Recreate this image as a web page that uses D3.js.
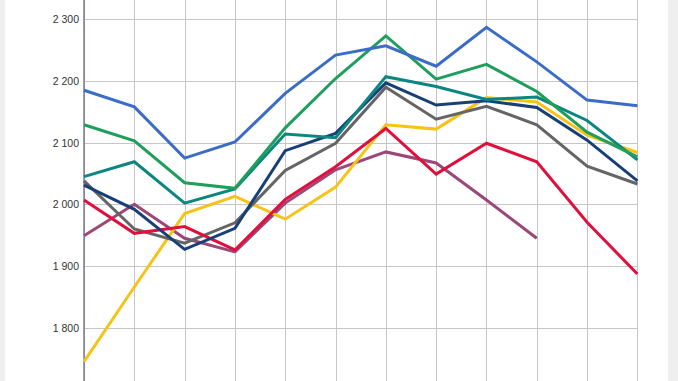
<!DOCTYPE html>
<html>
  <head>
    <meta charset="utf-8">
    <script src="https://cdn.jsdelivr.net/npm/d3@7"></script>
    <style>
      body { margin: 0; background: #ffffff; }
      svg { display: block; }
    </style>
  </head>
  <body>
    <svg width="678" height="381" id="mainsvg"></svg>
    <script>
        // values, one array per series
        const periods = [0, 1, 2, 3, 4, 5, 6, 7, 8, 9, 10, 11];
        const yTicks = [1800, 1900, 2000, 2100, 2200, 2300];

        const blueVals   = [2185, 2158, 2075, 2101, 2180, 2242, 2257, 2224, 2287, 2231, 2169, 2160];
        const greenVals  = [2129, 2103, 2035, 2026, 2124, 2204, 2273, 2203, 2227, 2183, 2117, 2077];
        const tealVals   = [2045, 2069, 2002, 2025, 2114, 2108, 2207, 2191, 2170, 2174, 2136, 2072];
        const navyVals   = [2031, 1992, 1927, 1961, 2087, 2115, 2197, 2161, 2168, 2157, 2104, 2038];
        const grayVals   = [2038, 1960, 1937, 1970, 2055, 2099, 2190, 2138, 2159, 2129, 2062, 2033];
        const yellowVals = [1745, 1866, 1985, 2013, 1976, 2028, 2129, 2122, 2173, 2166, 2112, 2084];
        const redVals    = [2007, 1953, 1964, 1926, 2008, 2061, 2123, 2049, 2099, 2069, 1971, 1887];
        const purpleVals = [1949, 2000, 1945, 1923, 2002, 2056, 2085, 2067, 2007, 1945];

        const series = [
            {name: 'purple', values: purpleVals, color: '#9b4878'},
            {name: 'yellow', values: yellowVals, color: '#f7c318'},
            {name: 'gray',   values: grayVals,   color: '#656565'},
            {name: 'red',    values: redVals,    color: '#e0103e'},
            {name: 'navy',   values: navyVals,   color: '#173f78'},
            {name: 'teal',   values: tealVals,   color: '#0b8680'},
            {name: 'green',  values: greenVals,  color: '#1f9e5c'},
            {name: 'blue',   values: blueVals,   color: '#3a6cc8'}
        ];

        const svg = d3.select('#mainsvg');
        const width = +svg.attr('width');
        const height = +svg.attr('height');

        // side strips of the frame
        svg.append('rect').attr('x', 0).attr('y', 0).attr('width', 5).attr('height', height).attr('fill', '#efefef');
        svg.append('rect').attr('x', 668).attr('y', 0).attr('width', width - 668).attr('height', height).attr('fill', '#efefef');

        const xScale = d3.scalePoint().domain(periods).range([84, 637.4]);
        const yScale = d3.scaleLinear().domain([1800, 2300]).range([327.7, 19.3]);

        // horizontal grid + labels
        const yAxis = d3.axisLeft(yScale)
            .tickValues(yTicks)
            .tickSize(-(637.4 - 84))
            .tickPadding(5)
            .tickFormat(d => d3.format(',')(d).replace(',', ' '));
        const yg = svg.append('g').attr('transform', 'translate(84,0)').call(yAxis);
        yg.select('.domain').remove();
        yg.selectAll('.tick line').attr('stroke', '#c6c6c6').attr('shape-rendering', 'crispEdges');
        yg.selectAll('.tick text')
            .attr('fill', '#333333')
            .attr('font-family', 'Liberation Sans, Arial, sans-serif')
            .attr('font-size', '10.5px');

        // vertical grid
        const xAxis = d3.axisBottom(xScale).tickSize(height).tickFormat('');
        const xg = svg.append('g').call(xAxis);
        xg.select('.domain').remove();
        xg.selectAll('.tick line').attr('stroke', '#c6c6c6').attr('shape-rendering', 'crispEdges');

        // left axis line
        svg.append('line')
            .attr('x1', 84).attr('x2', 84).attr('y1', 0).attr('y2', height)
            .attr('stroke', '#5c5c86').attr('stroke-width', 1.2);

        const line = d3.line()
            .x((d, i) => xScale(periods[i]))
            .y(d => yScale(d));

        svg.append('g').selectAll('path')
            .data(series)
            .enter().append('path')
            .attr('d', d => line(d.values))
            .attr('fill', 'none')
            .attr('stroke', d => d.color)
            .attr('stroke-width', 3)
            .attr('stroke-linejoin', 'miter');
    </script>
  </body>
</html>
